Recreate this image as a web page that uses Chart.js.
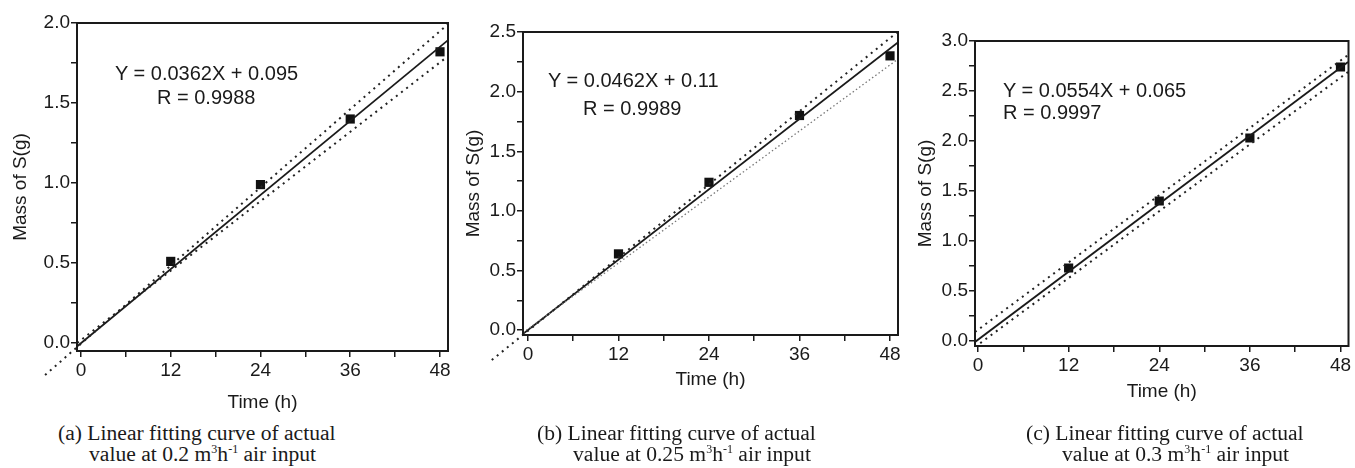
<!DOCTYPE html>
<html>
<head>
<meta charset="utf-8">
<script src="https://cdn.jsdelivr.net/npm/chart.js@4.4.1/dist/chart.umd.min.js"></script>
<style>
  body { margin: 0; width: 1355px; height: 468px; position: relative; background: #fff; overflow: hidden; }
  canvas { position: absolute; top: 0; }
  .eq { position: absolute; font-family: "Liberation Sans", Arial, sans-serif; font-size: 20px; line-height: 20px; white-space: nowrap; color: #1a1a1a; }
  .cap { position: absolute; font-family: "Liberation Serif", "Times New Roman", serif; font-size: 21.6px; line-height: 21px; white-space: nowrap; color: #1a1a1a; }
  .sup { font-size: 12px; position: relative; top: -8px; }
</style>
</head>
<body>
<canvas id="chartA" width="460" height="420" style="left:0px"></canvas>
<canvas id="chartB" width="455" height="420" style="left:455px"></canvas>
<canvas id="chartC" width="450" height="420" style="left:905px"></canvas>

<div class="eq" style="left:115px; top:63px">Y = 0.0362X + 0.095</div>
<div class="eq" style="left:157px; top:87px">R = 0.9988</div>
<div class="eq" style="left:548px; top:70px">Y = 0.0462X + 0.11</div>
<div class="eq" style="left:583px; top:98px">R = 0.9989</div>
<div class="eq" style="left:1003px; top:80px">Y = 0.0554X + 0.065</div>
<div class="eq" style="left:1003px; top:102px">R = 0.9997</div>

<div class="cap" style="left:58px; top:423px">(a) Linear fitting curve of actual</div>
<div class="cap" style="left:89px; top:444px">value at 0.2 m<span class="sup">3</span>h<span class="sup">-1</span> air input</div>
<div class="cap" style="left:537px; top:423px">(b) Linear fitting curve of actual</div>
<div class="cap" style="left:573px; top:444px">value at 0.25 m<span class="sup">3</span>h<span class="sup">-1</span> air input</div>
<div class="cap" style="left:1026px; top:423px">(c) Linear fitting curve of actual</div>
<div class="cap" style="left:1062px; top:444px">value at 0.3 m<span class="sup">3</span>h<span class="sup">-1</span> air input</div>

<script>
// measured mass of sulfur (g) after each sampling time (h)
const hours = [12, 24, 36, 48];
const massA = [0.51, 0.99, 1.40, 1.82];
const massB = [0.64, 1.24, 1.80, 2.30];
const massC = [0.73, 1.40, 2.03, 2.74];

// fitted line and the two dotted band lines, as end points
const fitXA = [-0.5, 49], fitYA = [-0.02, 1.89];
const upXA = [-4.8, 49], upYA = [-0.2, 1.99];
const lowXA = [-0.5, 49], lowYA = [0.0, 1.79];

const fitXB = [-0.65, 49], fitYB = [-0.03, 2.41];
const upXB = [-4.8, 49], upYB = [-0.25, 2.5];
const lowXB = [-0.65, 49], lowYB = [-0.02, 2.27];

const fitXC = [-0.4, 49], fitYC = [-0.01, 2.79];
const upXC = [-0.4, 49], upYC = [0.09, 2.86];
const lowXC = [-0.4, 49], lowYC = [-0.06, 2.69];

// labelled ticks
const xLabels = [0, 12, 24, 36, 48];
const yLabelsA = [0, 0.5, 1.0, 1.5, 2.0];
const yLabelsB = [0, 0.5, 1.0, 1.5, 2.0, 2.5];
const yLabelsC = [0, 0.5, 1.0, 1.5, 2.0, 2.5, 3.0];

Chart.defaults.font.family = '"Liberation Sans", Arial, sans-serif';
Chart.defaults.font.size = 19;
Chart.defaults.color = '#1a1a1a';

const ink = '#1a1a1a';

function pts(xs, ys) {
  return xs.map((x, i) => ({ x: x, y: ys[i] }));
}

// labelled ticks plus an unlabelled one half way between each pair
function withMinor(major) {
  const out = [];
  major.forEach((v, i) => {
    out.push(v);
    if (i < major.length - 1) out.push((v + major[i + 1]) / 2);
  });
  return out;
}

const framePlugin = {
  id: 'frame',
  afterDraw(chart) {
    const { ctx, chartArea: a } = chart;
    ctx.save();
    ctx.strokeStyle = ink;
    ctx.lineWidth = 2;
    ctx.strokeRect(a.left, a.top, a.right - a.left, a.bottom - a.top);
    ctx.restore();
  }
};

function makePanel(id, p) {
  new Chart(document.getElementById(id), {
    type: 'scatter',
    data: {
      datasets: [
        {
          data: pts(p.upX, p.upY),
          showLine: true, pointRadius: 0,
          borderColor: '#222', borderWidth: 2, borderDash: [2, 4.5],
          clip: false
        },
        {
          data: pts(p.lowX, p.lowY),
          showLine: true, pointRadius: 0,
          borderColor: p.lowColor, borderWidth: p.lowWidth, borderDash: p.lowDash
        },
        {
          data: pts(p.fitX, p.fitY),
          showLine: true, pointRadius: 0,
          borderColor: ink, borderWidth: 1.8
        },
        {
          data: pts(hours, p.mass),
          pointStyle: 'rect', pointRadius: 6.5,
          backgroundColor: '#111', borderColor: '#111', borderWidth: 0
        }
      ]
    },
    options: {
      responsive: false,
      animation: false,
      layout: { padding: p.pad },
      plugins: { legend: { display: false }, tooltip: { enabled: false } },
      scales: {
        x: {
          type: 'linear',
          min: p.xMin, max: p.xMax,
          afterBuildTicks: (scale) => {
            scale.ticks = withMinor(xLabels).map(v => ({ value: v }));
          },
          afterFit: (scale) => {
            scale.height = p.xHeight;
            scale.paddingLeft = 0;
            scale.paddingRight = 0;
          },
          ticks: {
            padding: 2,
            maxRotation: 0,
            autoSkip: false,
            callback: (v) => xLabels.includes(v) ? String(v) : ''
          },
          grid: { drawOnChartArea: false, drawTicks: true, tickLength: 6, color: ink, lineWidth: 1.5 },
          border: { display: false },
          title: { display: true, text: 'Time (h)', font: { size: 19 }, padding: { top: 4, bottom: 4 } }
        },
        y: {
          type: 'linear',
          min: p.yMin, max: p.yMax,
          afterBuildTicks: (scale) => {
            scale.ticks = withMinor(p.yLabels).map(v => ({ value: v }));
          },
          afterFit: (scale) => {
            scale.width = p.yWidth;
            scale.paddingTop = 0;
            scale.paddingBottom = 0;
          },
          ticks: {
            padding: 1,
            autoSkip: false,
            callback: (v) => p.yLabels.includes(v) ? v.toFixed(1) : ''
          },
          grid: { drawOnChartArea: false, drawTicks: true, tickLength: 6, color: ink, lineWidth: 1.5 },
          border: { display: false },
          title: { display: true, text: 'Mass of S(g)', font: { size: 19 }, padding: { top: 4, bottom: 4 } }
        }
      }
    },
    plugins: [framePlugin]
  });
}

makePanel('chartA', {
  mass: massA, fitX: fitXA, fitY: fitYA, upX: upXA, upY: upYA, lowX: lowXA, lowY: lowYA,
  lowColor: '#222', lowWidth: 2, lowDash: [2, 4.5],
  yLabels: yLabelsA,
  xMin: -0.53, xMax: 49.07, yMin: -0.05, yMax: 2.0,
  pad: { left: 5, top: 23, right: 12, bottom: 2 }, yWidth: 72, xHeight: 67
});

makePanel('chartB', {
  mass: massB, fitX: fitXB, fitY: fitYB, upX: upXB, upY: upYB, lowX: lowXB, lowY: lowYB,
  lowColor: '#777', lowWidth: 1.3, lowDash: [1.5, 2.5],
  yLabels: yLabelsB,
  xMin: -0.66, xMax: 49.06, yMin: -0.04, yMax: 2.5,
  pad: { left: 3, top: 32, right: 12, bottom: 25 }, yWidth: 65, xHeight: 60
});

makePanel('chartC', {
  mass: massC, fitX: fitXC, fitY: fitYC, upX: upXC, upY: upYC, lowX: lowXC, lowY: lowYC,
  lowColor: '#222', lowWidth: 2, lowDash: [2, 4.5],
  yLabels: yLabelsC,
  xMin: -0.4, xMax: 49.06, yMin: -0.05, yMax: 3.0,
  pad: { left: 5, top: 41, right: 6, bottom: 13 }, yWidth: 65, xHeight: 61
});
</script>
</body>
</html>
